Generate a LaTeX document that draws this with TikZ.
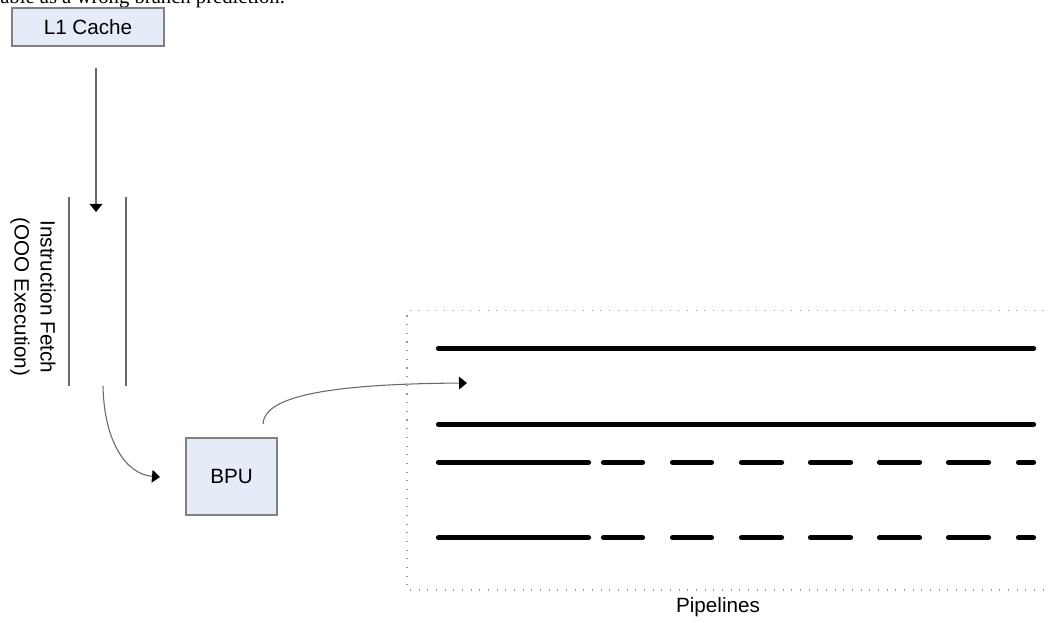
\documentclass[tikz,border=0pt]{standalone}
\usepackage{fontspec}
\setmainfont{Liberation Serif}
\setsansfont{Liberation Sans}
\usetikzlibrary{arrows.meta}
\definecolor{boxfill}{RGB}{229,235,247}
\definecolor{boxline}{RGB}{128,128,128}
\definecolor{wire}{RGB}{105,105,105}
\definecolor{dotgray}{RGB}{150,150,150}
\tikzset{
  unitbox/.style={draw=boxline, line width=1.1pt, fill=boxfill, inner sep=0pt,
    font=\sffamily\fontsize{15.5}{18}\selectfont},
  flow/.style={draw=wire, line width=0.8pt,
    -{Triangle[length=6pt, width=9.5pt, color=black, fill=black]}},
  rail/.style={draw=wire, line width=0.8pt},
  pipe/.style={line width=3.9pt, line cap=round, black},
  frame/.style={draw=dotgray, line width=0.8pt, dash pattern=on 0.8pt off 5.7pt},
  caption/.style={font=\sffamily\fontsize{15.5}{19.5}\selectfont, inner sep=0pt}
}
\begin{document}
\begin{tikzpicture}[x=0.75pt, y=-0.75pt]
\useasboundingbox (0,0) rectangle (1048,623);
\clip (0,0) rectangle (1048,623);

% running text above the figure
\node[anchor=base west, inner sep=0pt, font=\fontsize{15.5}{18}\selectfont] (runtext) at (0,4) {able as a wrong branch prediction.};

% L1 cache
\node[unitbox, minimum width=114pt, minimum height=28.5pt] (l1) at (88,27) {L1 Cache};
\coordinate (l1out) at (96,68);

% instruction fetch column
\coordinate (ifTL) at (69,197);
\coordinate (ifBL) at (69,386);
\coordinate (ifTR) at (126,197);
\coordinate (ifBR) at (126,386);
\coordinate (ifin) at (96,212);
\coordinate (ifout) at (103,386);
\draw[rail] (ifTL) -- (ifBL);
\draw[rail] (ifTR) -- (ifBR);
\node[caption, rotate=-90, align=center] (iflabel) at (33,297) {Instruction Fetch\\(OOO Execution)};

\draw[flow] (l1out) -- (ifin);

% branch prediction unit
\node[unitbox, minimum width=68.25pt, minimum height=57.75pt] (bpu) at (231.5,476.5) {BPU};
\coordinate (bpuin) at (160,477);
\coordinate (bpuout) at (263,424);

\draw[flow] (ifout) .. controls (104,440) and (125,474) .. (bpuin);

% pipelines
\coordinate (pipein) at (467,383);
\draw[frame] (1052,310.5) -- (407,310.5) -- (407,590) -- (1052,590);
\node[caption] (pipelabel) at (718,607) {Pipelines};

\draw[pipe] (438.5,348.3) -- (1033.5,348.3);
\draw[pipe] (438.5,424.3) -- (1033.5,424.3);
\foreach \y in {462.3,537.7}{
  \draw[pipe] (438.5,\y) -- (588.5,\y);
  \foreach \a/\b in {603.5/642.5, 672.5/711.5, 741.5/781.5, 810.5/850.5, 879.5/919.5, 948.5/988.5, 1018.5/1033.5}{
    \draw[pipe] (\a,\y) -- (\b,\y);
  }
}

\draw[flow] (bpuout) .. controls (264,398) and (320,384) .. (pipein);
\end{tikzpicture}
\end{document}
